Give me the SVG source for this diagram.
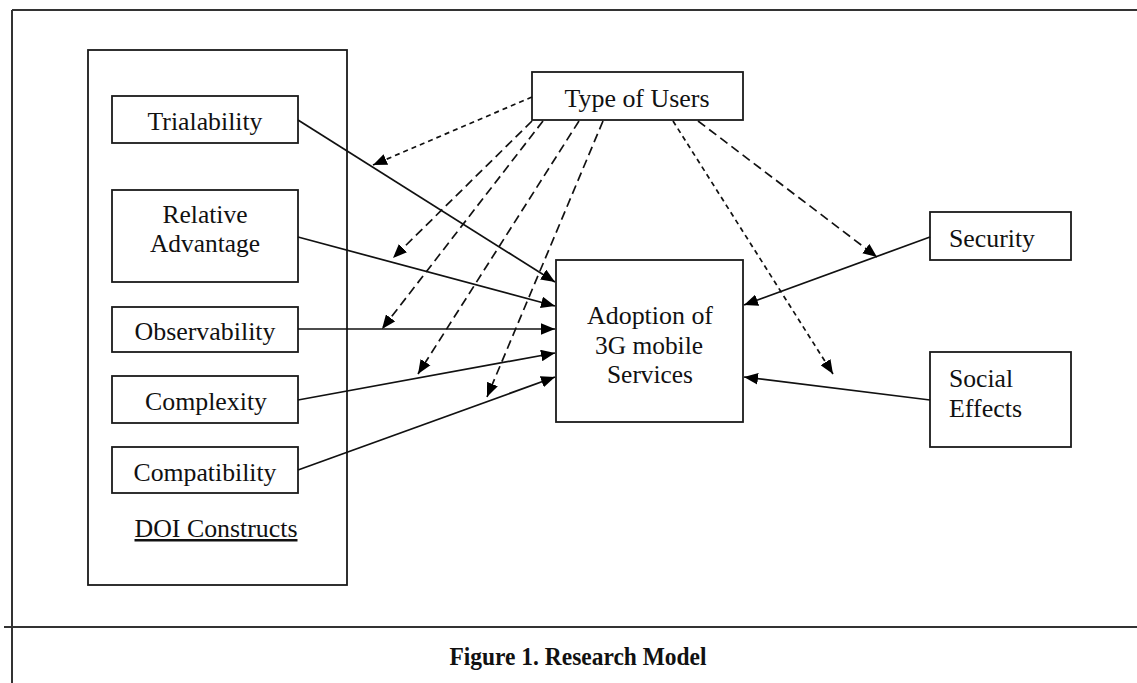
<svg xmlns="http://www.w3.org/2000/svg" width="1137" height="683" viewBox="0 0 1137 683">
<defs>
<style>
.box{fill:#fff;stroke:#1a1a1a;stroke-width:1.8}
.frame{fill:none;stroke:#333;stroke-width:2}
.t{font-family:"Liberation Serif","Times New Roman",serif;font-size:25px;fill:#111}
.m{text-anchor:middle}
.cap{font-family:"Liberation Serif","Times New Roman",serif;font-size:26px;font-weight:bold;fill:#111;text-anchor:middle}
.s{fill:none;stroke:#111;stroke-width:1.7}
.d1{fill:none;stroke:#111;stroke-width:1.7;stroke-dasharray:5 4}
.d2{fill:none;stroke:#111;stroke-width:1.7;stroke-dasharray:9 5}
</style>
<marker id="ah" viewBox="0 0 12 10" refX="12" refY="5" markerWidth="14" markerHeight="12" markerUnits="userSpaceOnUse" orient="auto">
<path d="M0,0 L12,5 L0,10 z" fill="#000"/>
</marker>
</defs>
<rect x="0" y="0" width="1137" height="683" fill="#fff"/>
<g id="frame">
<line class="frame" x1="12" y1="10" x2="1137" y2="10"/>
<line class="frame" x1="12" y1="10" x2="12" y2="683"/>
<line class="frame" x1="4" y1="627" x2="1137" y2="627"/>
</g>
<g id="doi-constructs">
<rect class="box" x="88" y="50" width="259" height="535"/>
<text class="t m" x="216" y="537" textLength="163" lengthAdjust="spacingAndGlyphs" text-decoration="underline">DOI Constructs</text>
</g>
<g id="trialability">
<rect class="box" x="112" y="96" width="186" height="47"/>
<text class="t m" x="205" y="130" textLength="115" lengthAdjust="spacingAndGlyphs">Trialability</text>
</g>
<g id="relative-advantage">
<rect class="box" x="112" y="190" width="186" height="92"/>
<text class="t m" x="205" y="223" textLength="85" lengthAdjust="spacingAndGlyphs">Relative</text>
<text class="t m" x="205" y="252" textLength="110" lengthAdjust="spacingAndGlyphs">Advantage</text>
</g>
<g id="observability">
<rect class="box" x="112" y="307" width="186" height="45"/>
<text class="t m" x="205" y="340" textLength="141" lengthAdjust="spacingAndGlyphs">Observability</text>
</g>
<g id="complexity">
<rect class="box" x="112" y="376" width="186" height="47"/>
<text class="t m" x="206" y="410" textLength="122" lengthAdjust="spacingAndGlyphs">Complexity</text>
</g>
<g id="compatibility">
<rect class="box" x="112" y="447" width="186" height="46"/>
<text class="t m" x="205" y="481" textLength="143" lengthAdjust="spacingAndGlyphs">Compatibility</text>
</g>
<g id="type-of-users">
<rect class="box" x="532" y="72" width="211" height="48"/>
<text class="t m" x="637" y="107" textLength="145" lengthAdjust="spacingAndGlyphs">Type of Users</text>
</g>
<g id="adoption">
<rect class="box" x="556" y="260" width="187" height="162"/>
<text class="t m" x="650" y="324" textLength="126" lengthAdjust="spacingAndGlyphs">Adoption of</text>
<text class="t m" x="649" y="354" textLength="108" lengthAdjust="spacingAndGlyphs">3G mobile</text>
<text class="t m" x="650" y="383" textLength="86" lengthAdjust="spacingAndGlyphs">Services</text>
</g>
<g id="security">
<rect class="box" x="930" y="212" width="141" height="48"/>
<text class="t" x="949" y="247" textLength="86" lengthAdjust="spacingAndGlyphs">Security</text>
</g>
<g id="social-effects">
<rect class="box" x="930" y="352" width="141" height="95"/>
<text class="t" x="949" y="387" textLength="64" lengthAdjust="spacingAndGlyphs">Social</text>
<text class="t" x="949" y="417" textLength="73" lengthAdjust="spacingAndGlyphs">Effects</text>
</g>
<g id="connectors">
<line class="s" x1="298" y1="120" x2="555" y2="282" marker-end="url(#ah)"/>
<line class="s" x1="298" y1="237" x2="555" y2="306" marker-end="url(#ah)"/>
<line class="s" x1="298" y1="329" x2="555" y2="329" marker-end="url(#ah)"/>
<line class="s" x1="298" y1="400" x2="555" y2="353" marker-end="url(#ah)"/>
<line class="s" x1="298" y1="470" x2="555" y2="377" marker-end="url(#ah)"/>
<line class="s" x1="930" y1="237" x2="744" y2="305" marker-end="url(#ah)"/>
<line class="s" x1="930" y1="400" x2="744" y2="377" marker-end="url(#ah)"/>
<line class="d1" x1="532" y1="97" x2="373" y2="165" marker-end="url(#ah)"/>
<line class="d2" x1="532" y1="121" x2="393" y2="258" marker-end="url(#ah)"/>
<line class="d2" x1="543" y1="121" x2="382" y2="329" marker-end="url(#ah)"/>
<line class="d2" x1="579" y1="121" x2="418" y2="374" marker-end="url(#ah)"/>
<line class="d2" x1="603" y1="121" x2="487" y2="397" marker-end="url(#ah)"/>
<line class="d1" x1="673" y1="121" x2="833" y2="374" marker-end="url(#ah)"/>
<line class="d2" x1="698" y1="121" x2="877" y2="257" marker-end="url(#ah)"/>
</g>
<g id="caption">
<text class="cap" x="578" y="665" textLength="257" lengthAdjust="spacingAndGlyphs">Figure 1. Research Model</text>
</g>
</svg>
